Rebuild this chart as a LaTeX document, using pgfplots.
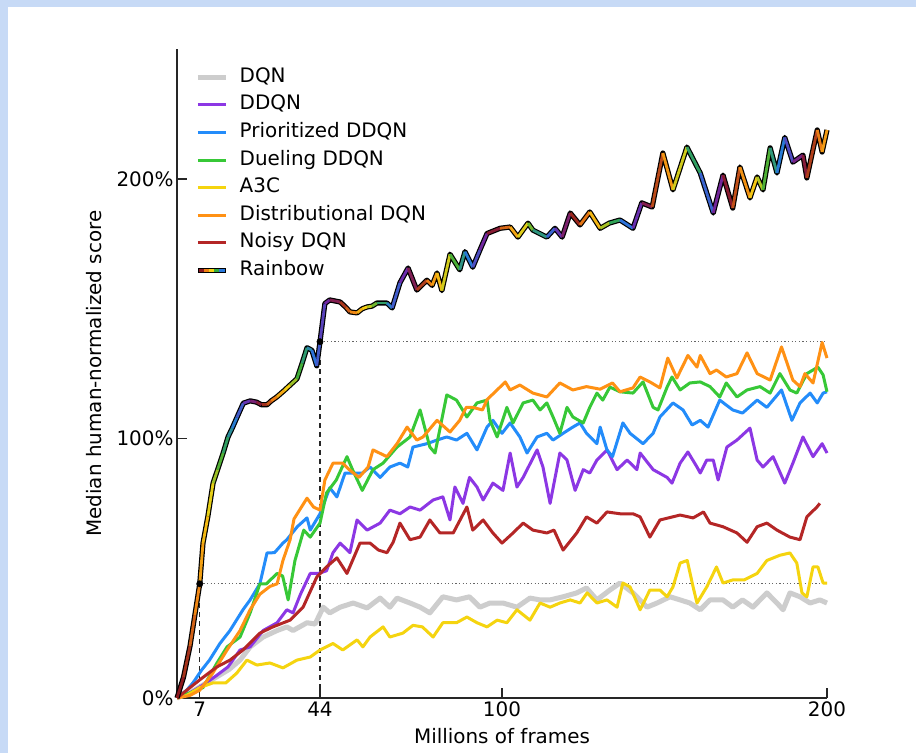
\documentclass[border=0pt]{standalone}
\usepackage{fontspec}
\setmainfont{DejaVu Sans}
\usepackage{pgfplots}
\usepackage{pgfplotstable}
\pgfplotsset{compat=1.18}
\definecolor{bgblue}{RGB}{199,218,246}
\definecolor{cDQN}{RGB}{205,205,205}
\definecolor{cDDQN}{RGB}{140,55,228}
\definecolor{cPri}{RGB}{35,140,250}
\definecolor{cDue}{RGB}{55,200,55}
\definecolor{cA3C}{RGB}{245,212,15}
\definecolor{cDis}{RGB}{255,145,20}
\definecolor{cNoi}{RGB}{180,38,38}
\definecolor{rbR}{RGB}{140,25,30}
\definecolor{rbO}{RGB}{240,130,20}
\definecolor{rbY}{RGB}{245,210,20}
\definecolor{rbG}{RGB}{50,170,60}
\definecolor{rbB}{RGB}{40,120,220}
\definecolor{rbP}{RGB}{110,40,170}
\newcommand\ff{\fontsize{20}{24}\selectfont}
\pgfplotsset{colormap={rbcyc}{
rgb255(0)=(140,25,30) rgb255(4)=(240,130,20) rgb255(8)=(245,210,20) rgb255(12)=(50,170,60) rgb255(16)=(40,120,220) rgb255(20)=(110,40,170)
rgb255(24)=(140,25,30) rgb255(28)=(240,130,20) rgb255(32)=(245,210,20) rgb255(36)=(50,170,60) rgb255(40)=(40,120,220) rgb255(44)=(110,40,170)
rgb255(48)=(140,25,30) rgb255(52)=(240,130,20) rgb255(56)=(245,210,20) rgb255(60)=(50,170,60) rgb255(64)=(40,120,220) rgb255(68)=(110,40,170)
rgb255(72)=(140,25,30) rgb255(76)=(240,130,20) rgb255(80)=(245,210,20) rgb255(84)=(50,170,60) rgb255(88)=(40,120,220) rgb255(92)=(110,40,170)
rgb255(96)=(140,25,30) rgb255(100)=(240,130,20) rgb255(104)=(245,210,20) rgb255(108)=(50,170,60) rgb255(112)=(40,120,220) rgb255(116)=(110,40,170)
rgb255(120)=(140,25,30) rgb255(124)=(240,130,20) rgb255(128)=(245,210,20) rgb255(132)=(50,170,60) rgb255(136)=(40,120,220) rgb255(140)=(110,40,170)
rgb255(144)=(140,25,30) rgb255(148)=(240,130,20) rgb255(152)=(245,210,20) rgb255(156)=(50,170,60) rgb255(160)=(40,120,220) rgb255(164)=(110,40,170)
rgb255(168)=(140,25,30) rgb255(172)=(240,130,20) rgb255(176)=(245,210,20) rgb255(180)=(50,170,60) rgb255(184)=(40,120,220) rgb255(188)=(110,40,170)
rgb255(192)=(140,25,30) rgb255(196)=(240,130,20) rgb255(200)=(245,210,20)
}}

\pgfplotstableread{
x y
0 0
2 8
4 20
5.5 32
7 44
8 59.7
9.5 70
11.1 82.8
12.5 88
14.2 94.4
15.7 100.6
17 104
18.4 108
20.4 113.6
22.5 114.5
24.5 114
26 113
27.7 113
29 114.5
30.7 116
33 118.5
34.8 120.6
36.9 123
38.5 129
40 135
41.5 134
43 128
44 137.3
45.5 152
47 153.4
50.2 152.6
52 150.5
53.2 148.8
55.4 148.4
57 150
58.5 150.7
60 151
61.5 152.2
64.6 152.2
66.2 150.3
68.6 160
71.1 165.7
73.8 157.2
76.9 161
78.5 159
80 163.8
81.5 157
84 171
87 165
88.6 172
91 166
93.2 172.6
95.4 179
99.4 181
102.5 181.5
104.9 177.6
108 183
109.5 180.3
113.8 177.6
116.3 181
118.5 177.6
121 186.9
124 182.3
127 187.3
130.2 181
133 183
136.3 184.2
140.3 181
143 190.8
146.2 189.2
149.5 210
152.6 195.8
156.9 212.3
161 202.3
165 186.9
168 201.5
171 188.8
173.2 204.6
176.3 192.7
178.5 200.8
180.3 195.8
182.5 212
184.6 202.3
187 216
189.5 206.5
192.6 209.2
193.8 200.4
197 218.9
198.5 210.4
200 218.9
}\rainbowdata

\begin{document}
\begin{tikzpicture}
\fill[white] (0,0) rectangle (916bp,753bp);
\fill[bgblue] (0,746bp) rectangle (916bp,753bp);
\fill[bgblue] (0,0) rectangle (8bp,753bp);
\begin{axis}[
  scale only axis, width=650bp, height=648.75bp,
  at={(177bp,55bp)}, anchor=south west,
  xmin=0, xmax=200, ymin=0, ymax=250,
  axis lines=left, axis line style={-, black!85, line width=1.2bp},
  xtick={7,44,100,200}, xticklabels={7,44,100,200},
  ytick={0,100,200}, yticklabels={0\%,100\%,200\%},
  tick align=inside, major tick length=10bp,
  tick style={black!85, line width=1.1bp},
  ticklabel style={font=\ff},
  xlabel={Millions of frames}, ylabel={Median human-normalized score},
  label style={font=\ff},
  xlabel style={yshift=-5bp},
  ylabel style={yshift=8bp},
  clip=false,
  legend style={at={(0.0277,0.971)}, anchor=north west, draw=none, fill=none,
    inner sep=0pt, font=\ff, row sep=9.6bp, column sep=11bp,
    nodes={inner sep=0pt, text height=14bp, text depth=4bp},
    cells={anchor=west}},
  legend image code/.code={\draw[#1] (0bp,0bp) -- (28bp,0bp);},
  colormap name=rbcyc, point meta min=2, point meta max=202,
  every axis plot/.append style={line join=round},
]
% helper lines
\addplot[forget plot, black!85, line width=1.4bp, dash pattern=on 5bp off 4bp] coordinates {(7,0) (7,44)};
\addplot[forget plot, black!85, line width=1.4bp, dash pattern=on 5bp off 4bp] coordinates {(44,0) (44,137.3)};
\addplot[forget plot, black!60, line width=1.1bp, dash pattern=on 1.2bp off 2.4bp] coordinates {(7,44) (200,44)};
\addplot[forget plot, black!60, line width=1.1bp, dash pattern=on 1.2bp off 2.4bp] coordinates {(44,137.3) (200,137.3)};

% DQN
\addplot[cDQN, line width=5bp] coordinates {
(0,0) (4,2) (8,5) (12,8) (16,11) (19.4,14.6) (22.5,19.7) (26.5,23.5) (30.8,26) (33.8,27.4) (35.7,26) (40,29) (42.5,28.5) (45,35) (47,32.8) (50.2,35) (54.2,36.6) (58.5,34.7) (62.5,38.5) (65.5,35) (67.7,38.5) (71.7,36.6) (74.8,35) (77.8,32.8) (81.8,39) (86,37.8) (90,39) (93.2,35) (96.3,36.6) (100.3,36.6) (104.6,35) (108.6,38.5) (111.7,37.8) (114.8,37.8) (118.8,39) (123,40.5) (126,42.4) (129.2,37.8) (133.2,41.6) (136.3,44.3) (140.3,40.5) (144.6,35) (147.7,36.6) (151.7,39) (154.8,37.8) (157.8,36.6) (161,34) (164,37.8) (168,37.8) (171,35) (174,37.8) (177.2,35) (181.5,40.5) (184.6,36.6) (186.5,34) (188.6,40.5) (191.7,39) (194.8,36.6) (197.8,37.8) (200,36.6)
};
\addlegendentry{DQN}
% DDQN
\addplot[cDDQN, line width=3bp] coordinates {
(0,0) (4,2) (8,5) (12,8.5) (15.7,12) (19.4,18.5) (22.5,19.7) (26.5,26) (30.8,29) (33.8,34) (35.7,32.8) (38,40) (41,48) (43.5,48) (46,49) (48,56) (50.2,59.7) (53.2,56) (55.4,68.6) (58.5,64.7) (62.5,67.4) (65.5,72.4) (68.6,71) (71.7,73.6) (74.8,72.4) (78.8,76.3) (81.8,77.5) (84,68.6) (85.5,81.3) (88,75) (90,85) (92.3,81.3) (94.2,76.3) (97.2,82.8) (100.3,80) (102.5,94.4) (104.6,81.3) (106.5,85) (110.8,95.6) (112.6,89) (114.8,75) (117.8,94.4) (120,91.7) (122.5,80) (125,88) (127,86.7) (129.2,91.7) (132.3,95.6) (135.4,88) (138.5,91.7) (141.5,88) (142.5,94.4) (146.5,88) (150.8,85) (152.3,82.8) (154.8,90.5) (157.2,94.8) (160,89) (161,86.7) (163,91.7) (165,91.7) (166.5,84) (169.2,96.7) (172.3,99.4) (176.3,104) (178.5,91.7) (180.3,89) (183.4,93) (187,82.8) (189.5,90.5) (192.6,100.6) (195.7,93) (198.5,98) (200,94.4)
};
\addlegendentry{DDQN}
% Prioritized DDQN
\addplot[cPri, line width=3bp] coordinates {
(0,0) (3,3) (5,6) (7.6,10.8) (10,14.6) (13.2,21) (16.3,26) (20.3,34) (22.5,37.8) (25.5,44) (27.7,55.9) (30,56) (32.6,59.7) (33.8,61) (37,66) (40,69.4) (41,64.7) (44,71) (47,81) (49.2,77.5) (51.7,86.7) (54,86.7) (57,86.7) (59.4,89) (62.5,85) (65.5,89) (68.6,90.5) (71,89) (72.6,96.7) (76.9,98) (80,99.4) (83,100.6) (86,99.4) (89.2,102) (92.3,95.6) (95.4,104.4) (97.2,107) (100,102) (102.5,106) (105.5,100.6) (107.7,94.4) (110.8,100.6) (113.8,102) (115.7,99.4) (118.8,102) (121.8,104.4) (124,106) (126,102) (129.2,98) (130.2,104.4) (132.3,95.6) (134,93) (137.2,106) (139.4,102) (143.4,98) (146.5,102) (148.6,108.3) (152.6,113.7) (155.7,111) (158.5,105.2) (161,107) (163.4,104.4) (167,114.8) (171,111) (174,109.8) (178.5,114.8) (181.5,112) (186,118.7) (189.2,107) (191.7,113.7) (194.8,117.5) (197,113.7) (198.8,117.5) (200,118)
};
\addlegendentry{Prioritized DDQN}
% Dueling DDQN
\addplot[cDue, line width=3bp] coordinates {
(0,0) (4,2) (8,4) (12.3,13.5) (15.4,19.7) (19.4,23.5) (22.5,32.8) (25.5,44) (27.5,44) (30.8,48) (32.5,47) (34.2,37.8) (36.3,53) (39,64.7) (41,62) (44,67.4) (46,79) (49,84) (52.3,93) (54,88) (57,80) (60.3,88) (63.4,90.5) (67.7,96.7) (71.7,100.6) (74.8,111) (77.8,96.7) (79.4,94.4) (83,116.8) (86,114.8) (89.2,108.3) (92.3,113.7) (95.4,114.8) (96.3,107) (98.5,100.6) (101.5,112) (103.4,106) (106.5,113.7) (109.5,114.8) (111.7,111) (113.8,113.7) (115.7,108.3) (117.8,102) (120,112) (121.8,108.3) (125,106) (127,112) (129.2,117.5) (131,114.8) (133.2,119.8) (136.3,118) (140.3,117.5) (143.4,121.8) (146.5,112) (148,111) (150.8,119.8) (152.3,123.7) (154.8,118.7) (157.8,121.4) (161,121.8) (164,120) (167,116) (169,121.4) (172.3,116) (175.4,118.7) (179.4,120) (182.5,117.5) (185.5,125) (188.6,118.7) (190.7,117.5) (193.8,125) (197.2,127.5) (198.8,124.5) (200,118)
};
\addlegendentry{Dueling DDQN}
% A3C
\addplot[cA3C, line width=3bp] coordinates {
(0,0) (3,1) (7,4) (11,5.8) (15,5.8) (18.4,9.6) (21.5,14.6) (24.6,12.7) (28.6,13.5) (32.6,11.6) (36.9,14.6) (41,15.8) (44,18.5) (48,21) (51,18.5) (55.4,22.4) (57.2,19.7) (59.4,23.5) (63.4,27.4) (65.5,23.5) (69.5,25) (72.6,28) (75.5,27.4) (78.8,23.5) (81.8,29) (86,29) (89.2,31.2) (92.3,29) (95.4,27.4) (98.5,30) (101.5,29) (104.6,34) (108.6,30) (111.7,36.6) (114.8,35) (117.8,36.6) (121,37.8) (124,36.6) (126.2,40.5) (129.2,36.6) (132.3,37.8) (135.4,35) (137.2,44.3) (139.4,42.8) (142.5,34) (145.5,41.6) (148.6,41.6) (150.8,39) (152.6,42.8) (154.8,52) (157,53) (158.8,42.8) (160,36.6) (163,42.8) (166,50.5) (168,44.3) (171,45.5) (174.5,45.5) (178.5,48) (181.5,53) (185.5,55) (188.6,55.9) (190.7,52) (192.3,40.5) (193.8,39) (195.7,50.5) (197.2,50.5) (198.8,44.3) (200,44.3)
};
\addlegendentry{A3C}
% Distributional DQN
\addplot[cDis, line width=3bp] coordinates {
(0,0) (4,1) (7,3) (11,9.6) (15.4,18.5) (19.4,26) (22.5,34) (25.5,40) (28.6,43) (30.8,44) (32.6,53) (34.8,61) (36,69) (40,77) (42,73.6) (44,72.4) (45.5,84) (48,90.5) (51,90.5) (53,88) (56,85) (58.8,89) (60.3,95.6) (64.6,93) (67.7,98) (70.8,104.4) (73.8,99.4) (75.7,100.6) (80,107) (84,102.5) (87,107) (89,112) (91,112) (94,111) (95.4,115) (98.5,118.7) (101,121.8) (102.5,118.7) (105.5,120.6) (109.5,117.5) (113.8,116) (117.8,121.4) (121.8,118.7) (126,120) (130.2,119) (134,121.4) (136.3,118) (140.3,119.5) (142.5,123.7) (145.5,121.8) (148.6,119.5) (151,131) (153.8,123.3) (157.2,132) (160,127.5) (161,132) (164,125) (166,126.4) (169,123.7) (172.3,125) (175.4,133) (178.5,125) (182.5,122.5) (186,135.3) (189.5,122.5) (191.7,120) (193.2,125) (195.7,121.4) (198.5,137) (200,131)
};
\addlegendentry{Distributional DQN}
% Noisy DQN
\addplot[cNoi, line width=3bp] coordinates {
(0,0) (3,3) (7,7) (12.3,12) (16.3,14.6) (20.3,18.5) (25.5,25) (29.5,27.4) (34.8,30) (38.8,35) (43,46.6) (46,50.5) (49.2,54) (52.3,48) (56.3,59.7) (59.4,59.7) (62,57) (64.6,56) (66.5,60) (68.6,67.4) (71.7,61) (74.8,62) (77.8,68.6) (80.9,63.6) (85,63.6) (89.2,73.6) (91,64.7) (94.2,68.6) (97.2,63.6) (100,59.7) (103.4,63.6) (106.5,67.4) (109.5,64.7) (113.8,63.6) (116,64.7) (118.8,57) (123,63.6) (126,69.8) (129.2,67.4) (132.3,71.7) (136.3,71) (140.3,71) (142.5,69.8) (145.5,62) (148.6,68.6) (154.8,70.5) (158.8,69.4) (162,71.7) (164,67.4) (168,66) (172.3,63.6) (175.4,60) (178.5,66) (181.5,67.4) (184.6,64.7) (188.6,62) (191.7,61) (193.8,69.8) (196.9,73.6) (197.8,75)
};
\addlegendentry{Noisy DQN}
% Rainbow
\addplot[forget plot, black, line width=5.2bp] table {\rainbowdata};
\addplot[mesh, point meta=x, line width=2.8bp,
  legend image code/.code={
    \draw[black, line width=5.5bp] (0bp,0bp) -- (28bp,0bp);
    \draw[rbR, line width=2.6bp] (0.8bp,0bp) -- (6bp,0bp);
    \draw[rbO, line width=2.6bp] (6bp,0bp) -- (11bp,0bp);
    \draw[rbY, line width=2.6bp] (11bp,0bp) -- (16bp,0bp);
    \draw[rbG, line width=2.6bp] (16bp,0bp) -- (21bp,0bp);
    \draw[rbB, line width=2.6bp] (21bp,0bp) -- (27.2bp,0bp);
  }] table {\rainbowdata};
\addlegendentry{Rainbow}
\addplot[forget plot, only marks, mark=*, mark size=3.2bp, black] coordinates {(7,44) (44,137.3)};
\end{axis}
\pgfresetboundingbox
\useasboundingbox (0,0) rectangle (916bp,753bp);
\end{tikzpicture}
\end{document}
